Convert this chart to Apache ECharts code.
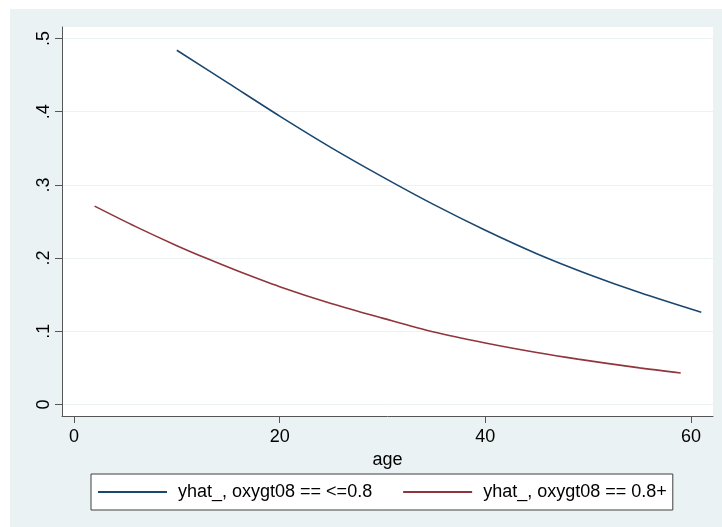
<!DOCTYPE html>
<html>
<head>
<meta charset="utf-8">
<script src="https://cdn.jsdelivr.net/npm/echarts@6/dist/echarts.min.js"></script>
<style>
html,body{margin:0;padding:0;background:#fff;}
#c{width:722px;height:527px;}
</style>
</head>
<body>
<div id="c"></div>
<script>
// ---- data ----
const ageLow = [10, 15, 20, 25, 30, 35, 40, 45, 50, 55, 61];
const yhatLow = [0.484, 0.439, 0.394, 0.351, 0.311, 0.273, 0.238, 0.206, 0.178, 0.153, 0.126];
const ageHigh = [2, 6, 10, 13, 16, 20, 25, 30, 35, 40, 45, 49, 55, 59];
const yhatHigh = [0.271, 0.243, 0.217, 0.199, 0.182, 0.161, 0.138, 0.118, 0.099, 0.084, 0.071, 0.062, 0.050, 0.043];
const seriesNames = ['yhat_, oxygt08 == <=0.8', 'yhat_, oxygt08 == 0.8+'];
const xTicks = [0, 20, 40, 60];
const yTicks = [0, 0.1, 0.2, 0.3, 0.4, 0.5];
const yTickLabels = ['0', '.1', '.2', '.3', '.4', '.5'];
const xTitle = 'age';

const FONT = 'Liberation Sans, Arial, sans-serif';
const AXIS = '#555555';

function pairs(xs, ys){ return xs.map((x,i)=>[x, ys[i]]); }

const chart = echarts.init(document.getElementById('c'), null, {renderer:'canvas'});
chart.setOption({
  backgroundColor: '#ffffff',
  animation: false,
  textStyle: {fontFamily: FONT},
  graphic: [{
    type: 'rect', z: -100, silent: true,
    shape: {x: 10, y: 9, width: 712, height: 518},
    style: {fill: '#eaf2f3'}
  }],
  grid: [
    {left: 62, right: 9, top: 27, bottom: 111, show: true, backgroundColor: '#ffffff', borderWidth: 0},
    {left: 62, right: 9, top: 38.5, bottom: 122.5, show: false}
  ],
  xAxis: [
    {gridIndex: 0, type: 'value', min: 0, max: 1,
     axisLine: {show: true, onZero: false, lineStyle: {color: AXIS, width: 1}},
     axisTick: {show: false}, axisLabel: {show: false}, splitLine: {show: false}},
    {gridIndex: 1, type: 'value', min: -1.167, max: 62.14, offset: 11.5,
     axisLine: {show: false, onZero: false},
     axisTick: {show: true, length: 7, customValues: xTicks, lineStyle: {color: AXIS}},
     axisLabel: {show: true, customValues: xTicks, fontSize: 18, color: '#000', margin: 12, fontFamily: FONT},
     splitLine: {show: false},
     name: xTitle, nameLocation: 'middle', nameGap: 28,
     nameTextStyle: {fontSize: 18, color: '#000', fontFamily: FONT}}
  ],
  yAxis: [
    {gridIndex: 0, type: 'value', min: 0, max: 1,
     axisLine: {show: true, onZero: false, lineStyle: {color: AXIS, width: 1}},
     axisTick: {show: false}, axisLabel: {show: false}, splitLine: {show: false}},
    {gridIndex: 1, type: 'value', min: 0, max: 0.5, interval: 0.1,
     axisLine: {show: false, onZero: false},
     axisTick: {show: true, length: 7, lineStyle: {color: AXIS}},
     axisLabel: {show: true, rotate: 90, fontSize: 18, color: '#000', margin: 9, fontFamily: FONT,
       formatter: function(v){ const i = yTicks.findIndex(t=>Math.abs(t-v)<1e-9); return i>=0 ? yTickLabels[i] : ''; }},
     splitLine: {show: true, lineStyle: {color: '#eaf2f3', width: 1}}}
  ],
  legend: {
    left: 91, top: 474,
    orient: 'horizontal',
    padding: [9, 6, 9, 7],
    itemGap: 31, itemWidth: 69, itemHeight: 2,
    icon: 'rect',
    borderColor: '#404040', borderWidth: 1, backgroundColor: '#ffffff',
    textStyle: {fontSize: 18, color: '#000', fontFamily: FONT, padding: [0, 0, 0, 6]},
    data: seriesNames
  },
  series: [
    {name: seriesNames[0], type: 'line', xAxisIndex: 1, yAxisIndex: 1,
     data: pairs(ageLow, yhatLow), smooth: 0.3, showSymbol: false, symbol: 'none',
     lineStyle: {color: '#1a476f', width: 1.6}, itemStyle: {color: '#1a476f'}},
    {name: seriesNames[1], type: 'line', xAxisIndex: 1, yAxisIndex: 1,
     data: pairs(ageHigh, yhatHigh), smooth: 0.3, showSymbol: false, symbol: 'none',
     lineStyle: {color: '#90353b', width: 1.6}, itemStyle: {color: '#90353b'}}
  ]
});
</script>
</body>
</html>
